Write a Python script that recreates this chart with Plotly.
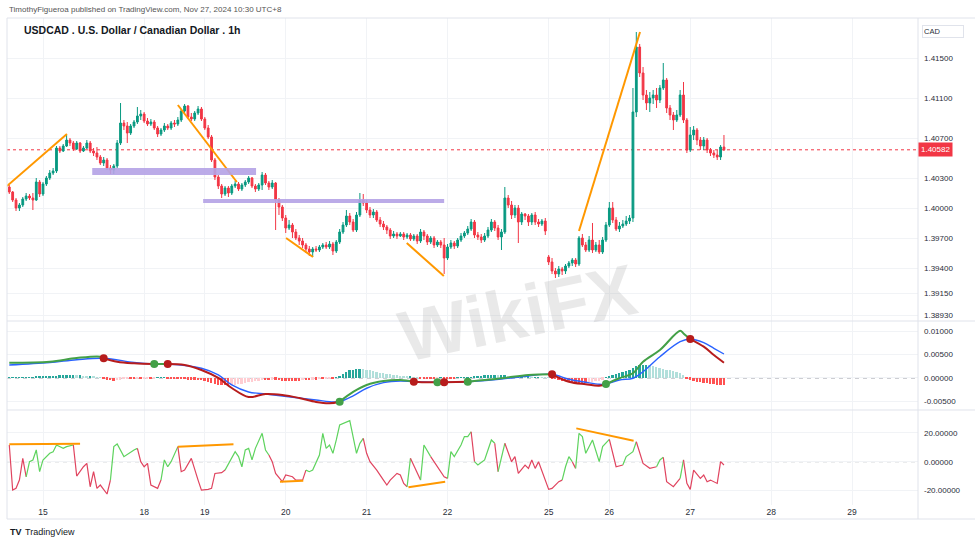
import plotly.graph_objects as go

# ---------------- data ----------------
day_pos = [10, 40, 58, 82, 106, 130, 160, 178, 202, 226, 250]
day_lbl = ["15", "18", "19", "20", "21", "22", "25", "26", "27", "28", "29"]

opens = [
 1.4021,1.4016,1.4008,1.4000,1.4003,1.4009,1.4012,1.4010,1.4008,1.4026,
 1.4014,1.4024,1.4030,1.4035,1.4037,1.4060,1.4057,1.4062,1.4068,1.4065,
 1.4059,1.4065,1.4057,1.4060,1.4065,1.4057,1.4055,1.4051,1.4045,1.4048,
 1.4040,1.4038,1.4042,1.4065,1.4085,1.4082,1.4075,1.4082,1.4086,1.4092,
 1.4094,1.4087,1.4084,1.4086,1.4080,1.4074,1.4078,1.4082,1.4080,1.4085,
 1.4084,1.4088,1.4097,1.4102,1.4091,1.4089,1.4095,1.4099,1.4089,1.4080,
 1.4071,1.4048,1.4031,1.4022,1.4014,1.4020,1.4015,1.4022,1.4024,1.4019,
 1.4023,1.4026,1.4030,1.4022,1.4019,1.4023,1.4033,1.4025,1.4021,1.4025,
 1.4008,1.4001,1.3990,1.3980,1.3983,1.3976,1.3970,1.3967,1.3963,1.3959,
 1.3956,1.3959,1.3958,1.3961,1.3963,1.3961,1.3964,1.3957,1.3966,1.3976,
 1.3983,1.3992,1.3986,1.3978,1.3993,1.4008,1.4005,1.3998,1.3993,1.3996,
 1.3988,1.3984,1.3981,1.3978,1.3972,1.3974,1.3972,1.3974,1.3971,1.3973,
 1.3969,1.3972,1.3967,1.3976,1.3972,1.3966,1.3970,1.3963,1.3966,1.3963,
 1.3950,1.3961,1.3965,1.3962,1.3968,1.3972,1.3975,1.3979,1.3986,1.3973,
 1.3971,1.3968,1.3972,1.3978,1.3986,1.3980,1.3971,1.3976,1.4010,1.4003,
 1.3993,1.4000,1.3986,1.3994,1.3992,1.3986,1.3993,1.3986,1.3984,1.3987,
 1.3951,1.3946,1.3937,1.3934,1.3939,1.3937,1.3942,1.3945,1.3948,1.3944,
 1.3970,1.3963,1.3958,1.3968,1.3958,1.3963,1.3956,1.3968,1.3983,1.4000,
 1.3988,1.3979,1.3982,1.3984,1.3987,1.3990,1.4096,1.4161,1.4135,1.4113,
 1.4105,1.4110,1.4113,1.4108,1.4120,1.4128,1.4100,1.4093,1.4088,1.4093,
 1.4113,1.4088,1.4058,1.4073,1.4078,1.4068,1.4062,1.4068,1.4058,1.4055,
 1.4053,1.4051,1.4061]

closes = [
 1.4016,1.4008,1.4000,1.4003,1.4009,1.4012,1.4010,1.4008,1.4026,1.4014,
 1.4024,1.4030,1.4035,1.4037,1.4060,1.4057,1.4062,1.4068,1.4065,1.4059,
 1.4065,1.4057,1.4060,1.4065,1.4057,1.4055,1.4051,1.4045,1.4048,1.4040,
 1.4038,1.4042,1.4065,1.4085,1.4082,1.4075,1.4082,1.4086,1.4092,1.4094,
 1.4087,1.4084,1.4086,1.4080,1.4074,1.4078,1.4082,1.4080,1.4085,1.4084,
 1.4088,1.4097,1.4102,1.4091,1.4089,1.4095,1.4099,1.4089,1.4080,1.4071,
 1.4048,1.4031,1.4022,1.4014,1.4020,1.4015,1.4022,1.4024,1.4019,1.4023,
 1.4026,1.4030,1.4022,1.4019,1.4023,1.4033,1.4025,1.4021,1.4025,1.4008,
 1.4001,1.3990,1.3980,1.3983,1.3976,1.3970,1.3967,1.3963,1.3959,1.3956,
 1.3959,1.3958,1.3961,1.3963,1.3961,1.3964,1.3957,1.3966,1.3976,1.3983,
 1.3992,1.3986,1.3978,1.3993,1.4008,1.4005,1.3998,1.3993,1.3996,1.3988,
 1.3984,1.3981,1.3978,1.3972,1.3974,1.3972,1.3974,1.3971,1.3973,1.3969,
 1.3972,1.3967,1.3976,1.3972,1.3966,1.3970,1.3963,1.3966,1.3963,1.3950,
 1.3961,1.3965,1.3962,1.3968,1.3972,1.3975,1.3979,1.3986,1.3973,1.3971,
 1.3968,1.3972,1.3978,1.3986,1.3980,1.3971,1.3976,1.4010,1.4003,1.3993,
 1.4000,1.3986,1.3994,1.3992,1.3986,1.3993,1.3986,1.3984,1.3987,1.3977,
 1.3946,1.3937,1.3934,1.3939,1.3937,1.3942,1.3945,1.3948,1.3944,1.3970,
 1.3963,1.3958,1.3968,1.3958,1.3963,1.3956,1.3968,1.3983,1.4000,1.3988,
 1.3979,1.3982,1.3984,1.3987,1.3990,1.4096,1.4161,1.4135,1.4113,1.4105,
 1.4110,1.4113,1.4108,1.4120,1.4128,1.4100,1.4093,1.4088,1.4093,1.4113,
 1.4088,1.4058,1.4073,1.4078,1.4068,1.4062,1.4068,1.4058,1.4055,1.4053,
 1.4051,1.4061,1.40582]

highs = [
 1.4023,1.4017,1.4010,1.4005,1.4011,1.4015,1.4014,1.4015,1.4030,1.4028,
 1.4026,1.4032,1.4038,1.4040,1.4062,1.4062,1.4064,1.4073,1.4070,1.4067,
 1.4067,1.4066,1.4062,1.4068,1.4067,1.4060,1.4061,1.4053,1.4051,1.4050,
 1.4043,1.4044,1.4068,1.4105,1.4088,1.4086,1.4084,1.4088,1.4101,1.4098,
 1.4096,1.4090,1.4089,1.4088,1.4082,1.4080,1.4085,1.4084,1.4087,1.4088,
 1.4091,1.4099,1.4104,1.4103,1.4095,1.4097,1.4102,1.4101,1.4091,1.4083,
 1.4073,1.4050,1.4033,1.4024,1.4022,1.4022,1.4024,1.4027,1.4026,1.4025,
 1.4028,1.4032,1.4031,1.4024,1.4025,1.4036,1.4035,1.4027,1.4028,1.4026,
 1.4010,1.4003,1.3993,1.3988,1.3985,1.3979,1.3973,1.3970,1.3965,1.3962,
 1.3961,1.3962,1.3963,1.3965,1.3966,1.3967,1.3966,1.3968,1.3979,1.3986,
 1.3998,1.3995,1.3989,1.3996,1.4015,1.4014,1.4008,1.4001,1.3999,1.3998,
 1.3991,1.3987,1.3983,1.3980,1.3977,1.3976,1.3976,1.3976,1.3975,1.3975,
 1.3974,1.3974,1.3979,1.3978,1.3974,1.3972,1.3972,1.3968,1.3968,1.3970,
 1.3964,1.3968,1.3967,1.3970,1.3975,1.3977,1.3982,1.3989,1.3988,1.3976,
 1.3974,1.3975,1.3981,1.3989,1.3988,1.3983,1.3979,1.4021,1.4013,1.4007,
 1.4003,1.4003,1.3996,1.3995,1.3994,1.3995,1.3996,1.3989,1.3989,1.3990,
 1.3953,1.3950,1.3940,1.3942,1.3941,1.3944,1.3947,1.3950,1.3950,1.3972,
 1.3974,1.3966,1.3972,1.3985,1.3966,1.3968,1.3971,1.3986,1.4006,1.4006,
 1.3991,1.3986,1.3988,1.3992,1.3993,1.4120,1.4176,1.4164,1.4141,1.4118,
 1.4116,1.4118,1.4120,1.4123,1.4145,1.4130,1.4103,1.4096,1.4098,1.4118,
 1.4126,1.4090,1.4081,1.4082,1.4080,1.4071,1.4071,1.4070,1.4060,1.4058,
 1.4058,1.4063,1.4073]

lows = [
 1.4014,1.4006,1.3997,1.3997,1.4001,1.4007,1.4008,1.3998,1.4007,1.4011,
 1.4012,1.4022,1.4028,1.4033,1.4035,1.4055,1.4056,1.4061,1.4062,1.4057,
 1.4058,1.4055,1.4056,1.4059,1.4055,1.4052,1.4048,1.4043,1.4042,1.4038,
 1.4034,1.4034,1.4040,1.4063,1.4078,1.4065,1.4073,1.4080,1.4084,1.4088,
 1.4085,1.4082,1.4082,1.4078,1.4071,1.4072,1.4076,1.4078,1.4078,1.4081,
 1.4082,1.4086,1.4095,1.4089,1.4087,1.4087,1.4093,1.4087,1.4078,1.4069,
 1.4046,1.4028,1.4019,1.4010,1.4012,1.4011,1.4013,1.4020,1.4017,1.4017,
 1.4021,1.4024,1.4020,1.4016,1.4017,1.4018,1.4023,1.4018,1.4019,1.3978,
 1.3993,1.3987,1.3975,1.3978,1.3970,1.3968,1.3963,1.3960,1.3955,1.3952,
 1.3951,1.3956,1.3956,1.3959,1.3959,1.3959,1.3953,1.3955,1.3964,1.3974,
 1.3981,1.3983,1.3976,1.3976,1.3991,1.4002,1.3995,1.3990,1.3990,1.3986,
 1.3981,1.3978,1.3974,1.3969,1.3970,1.3969,1.3971,1.3968,1.3969,1.3967,
 1.3967,1.3964,1.3965,1.3968,1.3963,1.3964,1.3960,1.3961,1.3960,1.3934,
 1.3948,1.3959,1.3959,1.3960,1.3966,1.3970,1.3973,1.3977,1.3970,1.3968,
 1.3965,1.3966,1.3970,1.3976,1.3977,1.3968,1.3958,1.3974,1.4000,1.3989,
 1.3990,1.3965,1.3983,1.3988,1.3982,1.3983,1.3983,1.3981,1.3982,1.3973,
 1.3943,1.3934,1.3930,1.3931,1.3933,1.3934,1.3940,1.3942,1.3941,1.3942,
 1.3961,1.3956,1.3956,1.3955,1.3956,1.3954,1.3954,1.3966,1.3981,1.3985,
 1.3977,1.3976,1.3980,1.3982,1.3984,1.3986,1.4091,1.4131,1.4108,1.4098,
 1.4096,1.4104,1.4100,1.4105,1.4118,1.4095,1.4088,1.4078,1.4086,1.4091,
 1.4085,1.4055,1.4056,1.4068,1.4063,1.4058,1.4058,1.4055,1.4052,1.4050,
 1.4048,1.4048,1.4057]

price_ticks = [1.415, 1.411, 1.407, 1.403, 1.400, 1.397, 1.394, 1.3915, 1.3893]

# MACD panel
macd_idx = [0,12,20,27,28,32,37,43,47,52,57,62,66,71,76,81,86,91,95,98,
            102,106,111,116,120,124,127,129,136,146,154,161,166,171,175,177,181,185,188,193,
            199,200,202,206,209,212]
macd_val = [0.00326,0.00347,0.00426,0.00454,0.0042,0.00347,0.00313,0.00298,0.00298,0.00277,
            0.0017,0.0,-0.00213,-0.00405,-0.00341,-0.00362,-0.00426,-0.00511,-0.00539,-0.00505,
            -0.00298,-0.00149,-0.00064,-0.00043,-0.00079,-0.00092,-0.00092,-0.00092,-0.00079,-0.00006,
            0.00064,0.00079,-0.00079,-0.00134,-0.00164,-0.00128,-0.00006,0.001,0.00347,0.00596,
            0.01007,0.0095,0.0083,0.00667,0.0049,0.00326]
signal_idx = [0,12,20,28,37,43,47,57,62,66,71,76,81,86,91,95,98,102,106,111,
              116,120,129,136,146,154,161,166,171,175,177,181,185,188,193,199,202,206,209,212]
signal_val = [0.00277,0.0033,0.0039,0.0042,0.0033,0.00298,0.00298,0.00207,0.00064,-0.00149,
              -0.00298,-0.0034,-0.00383,-0.00426,-0.00469,-0.00505,-0.00505,-0.00383,-0.00219,-0.001,
              -0.00064,-0.00079,-0.00092,-0.00079,-0.00021,0.00043,0.00079,-0.00028,-0.00092,-0.00134,
              -0.00128,-0.00043,-0.00006,0.00134,0.00454,0.00773,0.0083,0.00752,0.00633,0.00511]
cross_idx = [28, 43, 47, 98, 120, 127, 129, 136, 161, 177, 202]
cross_dir = ["dn", "up", "dn", "up", "dn", "up", "dn", "up", "dn", "up", "dn"]
hist_val = [
 0.0002,0.0002,0.0002,0.0002,0.0002,0.0002,0.0002,0.0002,0.0003,0.0003,
 0.0003,0.0003,0.0003,0.0004,0.0004,0.0006,0.0006,0.0007,0.0007,0.0007,
 0.0006,0.0006,0.0005,0.0004,0.0004,0.0003,0.0002,0.0001,-0.0002,-0.0004,
 -0.0005,-0.0006,-0.0005,-0.0004,-0.0003,-0.0002,-0.0002,-0.0002,-0.00016,-0.00016,
 -0.00012,-0.0001,-0.0001,-0.00006,0.00006,0.00006,0.00006,-0.0001,-0.00016,-0.0002,
 -0.00024,-0.0003,-0.0003,-0.00036,-0.0004,-0.0004,-0.00044,-0.0005,-0.0006,-0.0008,
 -0.001,-0.0012,-0.0014,-0.0015,-0.0016,-0.0016,-0.0015,-0.0014,-0.0013,-0.0012,
 -0.001,-0.0009,-0.0008,-0.0007,-0.0006,-0.0005,-0.0005,-0.0005,-0.0004,-0.0004,
 -0.0005,-0.0006,-0.0006,-0.0006,-0.0006,-0.0006,-0.0006,-0.0005,-0.0005,-0.0005,
 -0.0004,-0.0004,-0.0003,-0.0003,-0.0002,-0.0001,-0.0001,0.0002,0.0004,0.0008,
 0.0012,0.0016,0.0018,0.002,0.002,0.0019,0.0018,0.0016,0.0014,0.0012,
 0.0011,0.001,0.0009,0.0008,0.0007,0.0006,0.0005,0.0004,0.0003,0.0003,
 0.0002,0.0001,-0.0001,-0.0001,-0.0001,-0.0001,-0.0001,-0.00006,0.00006,-0.00006,
 -0.00006,-0.00006,-0.00006,0.00006,0.0001,0.0001,0.00016,0.0002,0.0003,0.0004,
 0.0005,0.0006,0.0007,0.0007,0.0007,0.0006,0.0006,0.0006,0.0005,0.0005,
 0.0004,0.0004,0.0004,0.0003,0.0003,0.0002,0.0002,0.0002,0.00016,0.0001,
 0.00006,-0.0002,-0.0003,-0.0004,-0.0006,-0.0007,-0.0008,-0.0009,-0.001,-0.001,
 -0.001,-0.001,-0.0009,-0.0008,-0.0007,-0.0006,-0.0004,0.0002,0.0004,0.0006,
 0.0008,0.001,0.0012,0.0014,0.0018,0.0022,0.0026,0.0028,0.0028,0.0028,
 0.0027,0.0026,0.0024,0.0022,0.002,0.0018,0.0016,0.0014,0.0012,0.001,
 0.0006,-0.0002,-0.0004,-0.0006,-0.0008,-0.0009,-0.001,-0.0011,-0.0012,-0.0013,
 -0.0014,-0.0015,-0.0016]
macd_ticks = [0.01, 0.005, 0.0, -0.005]

# Oscillator panel
osc_idx = [0,1,2,3,4,5,6,7,8,9,10,12,13,14,16,17,19,20,22,23,
           24,25,26,27,29,30,31,32,34,37,38,39,40,41,42,44,45,46,47,48,
           50,51,52,54,56,57,59,60,61,63,64,66,67,68,69,70,71,72,73,75,
           76,77,78,79,81,82,84,85,87,88,89,90,92,93,94,95,96,97,98,101,
           102,103,104,105,106,107,109,111,112,113,115,116,117,118,119,122,123,125,126,127,
           129,130,131,132,134,135,136,137,138,139,141,143,144,145,147,149,150,151,153,154,
           155,156,157,158,160,161,163,164,165,166,167,168,169,170,171,173,175,176,178,180,
           182,183,185,186,187,188,190,192,193,194,195,197,199,200,201,202,203,205,206,207,
           208,210,211,212]
osc_val = [11.5,-19.6,-18.4,-12.7,2.3,-10.4,0,1.2,8.1,-6.9,1.2,5.8,6.9,11.5,9.2,10.4,11.5,-9.9,-3.5,-1.2,
           -17.3,-6.9,-18.4,-16.1,-22.3,-12.7,10.4,12.2,3.5,8.1,9.2,0,-3.5,-1.2,-16.1,-18.4,-12.7,1.2,-3.5,0,
           10.4,-6.9,-5.8,2.3,-12.7,-19.6,-19.1,-18.4,-8.1,-7.6,-5.8,2.3,6.9,3.5,-3.5,8.1,9.2,1.2,9.2,19.6,
           8.1,4.6,0,-8.1,-13.8,-9.2,-10.4,-12.7,-12.7,-5.8,-6.9,-5.8,4.6,19.6,9.2,11.5,5.8,15,25.3,28.3,
           17.3,5.8,12.7,16.1,5.8,0,-5.8,-12.7,-16.1,-12.7,-8.1,-9.2,-15,-17.3,2.3,-12.7,11.5,3.5,0,-3.5,
           -10.4,-11.5,6.9,3.5,11.5,17.3,17.3,20.7,0,-2.3,1.2,15,12.7,-6.9,12.7,0,3.5,-8.1,-2.3,-4.6,
           1.2,-4.6,0,-6.9,-19.1,-18.4,-13.8,-12.7,-3.5,3.5,0,-4.6,19.6,17.3,5.8,15,0,10.4,15.4,-3.5,
           -2.3,3.5,6.9,13.8,5.8,-1.2,-4.6,-3.5,1.2,3,-13.8,-17.3,-11.5,1.2,-15,-19.1,-5.8,-11.5,-9.2,-13.8,
           -12.7,-15,0,-2.3]
# colour of the line segment starting at each point, as runs (state, count)
osc_runs = [("dn",5),("up",11),("dn",9),("up",5),("dn",6),("up",4),("dn",10),("up",11),
            ("dn",8),("up",14),("dn",10),("up",1),("dn",1),("up",2),("dn",4),("up",6),
            ("dn",1),("up",4),("dn",1),("up",1),("dn",13),("up",3),("dn",1),("up",7),
            ("dn",2),("up",3),("dn",4),("up",2),("dn",3),("up",1),("dn",11)]
osc_ticks = [20, 0, -20]

# drawings
trend_x0 = [-0.7, 50.0, 82.1, 117.9, 169.0]
trend_x1 = [17.1, 67.5, 90.1, 128.9, 187.1]
trend_p0 = [1.4022, 1.4103, 1.3970, 1.3965, 1.3977]
trend_p1 = [1.4074, 1.4026, 1.3951, 1.3932, 1.4176]
zone_x0 = [24.6, 57.5]
zone_x1 = [73.2, 129.0]
zone_lo = [1.4033, 1.4005]
zone_hi = [1.4040, 1.4009]
otrend_x0 = [0, 50, 80.3, 118.4, 168.2]
otrend_x1 = [21, 66.5, 87.2, 129.3, 185.2]
otrend_v0 = [12, 10.4, -13.8, -17.7, 23]
otrend_v1 = [12.4, 12, -13.1, -13.8, 14.5]

# ---------------- styling ----------------
UP = "#089981"
DN = "#f23645"
GRID = "#f1f3f6"
FRAME = "#e0e3eb"
TXT = "#2a2e39"
ORANGE = "#ff9800"
FONT = "Liberation Sans"
XR = [-0.68, 269.56]
D_PRICE = [0.3778, 1.0]
D_MACD = [0.1951, 0.3778]
D_OSC = [0.0, 0.1951]

fig = go.Figure()
n = len(closes)
xs = list(range(n))

fig.add_trace(go.Candlestick(
    x=xs, open=opens, high=highs, low=lows, close=closes,
    increasing=dict(line=dict(color=UP, width=1), fillcolor=UP),
    decreasing=dict(line=dict(color=DN, width=1), fillcolor=DN),
    whiskerwidth=0, hoverinfo="skip", showlegend=False, xaxis="x", yaxis="y"))

# histogram
hist_cols = []
prev = 0.0
for v in hist_val:
    if v >= 0:
        c = "#26a69a" if v >= prev else "#b2dfdb"
    else:
        c = "#ff5252" if v <= prev else "#ffcdd2"
    hist_cols.append(c)
    prev = v
fig.add_trace(go.Bar(x=xs, y=hist_val, marker=dict(color=hist_cols, line=dict(width=0)),
                     width=0.55, xaxis="x2", yaxis="y2", hoverinfo="skip", showlegend=False))

# signal line
fig.add_trace(go.Scatter(x=signal_idx, y=signal_val, mode="lines",
                         line=dict(color="#2962ff", width=1.4, shape="spline"),
                         xaxis="x2", yaxis="y2", hoverinfo="skip", showlegend=False))

# MACD line split at crossings
macd_pts = list(zip(macd_idx, macd_val))
bounds = [macd_idx[0]] + cross_idx + [macd_idx[-1]]
for k in range(len(bounds) - 1):
    a, b = bounds[k], bounds[k + 1]
    seg = [(i, v) for i, v in macd_pts if a <= i <= b]
    if k == 0:
        col = "#43a047" if cross_dir[0] == "dn" else "#b71c1c"
    else:
        col = "#43a047" if cross_dir[k - 1] == "up" else "#b71c1c"
    fig.add_trace(go.Scatter(x=[p[0] for p in seg], y=[p[1] for p in seg], mode="lines",
                             line=dict(color=col, width=2, shape="spline"),
                             xaxis="x2", yaxis="y2", hoverinfo="skip", showlegend=False))

macd_lookup = dict(macd_pts)
fig.add_trace(go.Scatter(
    x=cross_idx, y=[macd_lookup[i] for i in cross_idx], mode="markers",
    marker=dict(size=8, color=["#43a047" if d == "up" else "#b71c1c" for d in cross_dir]),
    xaxis="x2", yaxis="y2", hoverinfo="skip", showlegend=False))

# oscillator
osc_state = []
for st, cnt in osc_runs:
    osc_state += [st] * cnt
k = 0
while k < len(osc_idx) - 1:
    st = osc_state[k]
    j = k
    while j < len(osc_idx) - 1 and osc_state[j] == st:
        j += 1
    fig.add_trace(go.Scatter(x=osc_idx[k:j + 1], y=osc_val[k:j + 1], mode="lines",
                             line=dict(color="#5ed35e" if st == "up" else "#e0445f", width=1.2),
                             xaxis="x3", yaxis="y3", hoverinfo="skip", showlegend=False))
    k = j

# ---------------- shapes ----------------
shapes = []
for x0, x1, p0, p1 in zip(trend_x0, trend_x1, trend_p0, trend_p1):
    shapes.append(dict(type="line", xref="x", yref="y", x0=x0, x1=x1, y0=p0, y1=p1,
                       line=dict(color=ORANGE, width=2)))
for x0, x1, lo, hi in zip(zone_x0, zone_x1, zone_lo, zone_hi):
    shapes.append(dict(type="rect", xref="x", yref="y", x0=x0, x1=x1, y0=lo, y1=hi,
                       fillcolor="#b4a2e6", opacity=0.9, line=dict(width=0)))
for x0, x1, v0, v1 in zip(otrend_x0, otrend_x1, otrend_v0, otrend_v1):
    shapes.append(dict(type="line", xref="x3", yref="y3", x0=x0, x1=x1, y0=v0, y1=v1,
                       line=dict(color=ORANGE, width=2)))
# last price dotted line
shapes.append(dict(type="line", xref="paper", yref="y", x0=0, x1=1, y0=closes[-1], y1=closes[-1],
                   line=dict(color=DN, width=1, dash="dot"), layer="below"))
# zero lines
shapes.append(dict(type="line", xref="paper", yref="y2", x0=0, x1=1, y0=0, y1=0,
                   line=dict(color="#9598a1", width=1, dash="4px,4px"), layer="below"))
shapes.append(dict(type="line", xref="paper", yref="y3", x0=0, x1=1, y0=0, y1=0,
                   line=dict(color="#9598a1", width=1, dash="4px,4px"), layer="below"))
# frame / separators
XR_PAPER = (975 - 7) / 911
BOT = (505 - 519) / 487
for y in (1.0, D_MACD[1], D_OSC[1], BOT):
    shapes.append(dict(type="line", xref="paper", yref="paper", x0=0, x1=XR_PAPER, y0=y, y1=y,
                       line=dict(color=FRAME, width=1)))
shapes.append(dict(type="line", xref="paper", yref="paper", x0=0, x1=0, y0=BOT, y1=1,
                   line=dict(color=FRAME, width=1)))
shapes.append(dict(type="line", xref="paper", yref="paper", x0=1, x1=1, y0=BOT, y1=1,
                   line=dict(color=FRAME, width=1)))

# ---------------- annotations ----------------
def px_x(px):
    return (px - 7) / 911

def px_y(py):
    return (505 - py) / 487

annotations = [
    dict(text="TimothyFigueroa published on TradingView.com, Nov 27, 2024 10:30 UTC+8",
         xref="paper", yref="paper", x=px_x(7), y=px_y(9), xanchor="left", yanchor="middle",
         showarrow=False, font=dict(family=FONT, size=8, color="#555555")),
    dict(text="<b>USDCAD . U.S. Dollar / Canadian Dollar . 1h</b>",
         xref="paper", yref="paper", x=px_x(22), y=px_y(30), xanchor="left", yanchor="middle",
         showarrow=False, font=dict(family=FONT, size=10.5, color="#131722")),
    dict(text="CAD", xref="paper", yref="paper", x=px_x(922), y=px_y(31), xanchor="left",
         yanchor="middle", showarrow=False, width=38, align="left", bordercolor=FRAME,
         borderwidth=1, borderpad=1, font=dict(family=FONT, size=7.5, color=TXT)),
    dict(text=f"{closes[-1]:.5f}", xref="paper", yref="y", x=1, y=closes[-1], xanchor="left",
         yanchor="middle", showarrow=False, bgcolor=DN, borderpad=2,
         font=dict(family=FONT, size=8, color="white")),
    dict(text="<b>WikiFX</b>", xref="paper", yref="paper", x=px_x(517), y=px_y(313),
         xanchor="center", yanchor="middle", showarrow=False, textangle=-12,
         font=dict(family=FONT, size=72, color="rgba(170,170,170,0.26)")),
    dict(text="<b>TV</b>", xref="paper", yref="paper", x=px_x(8), y=px_y(532), xanchor="left",
         yanchor="middle", showarrow=False, font=dict(family=FONT, size=9, color="#131722")),
    dict(text="TradingView", xref="paper", yref="paper", x=px_x(23), y=px_y(532), xanchor="left",
         yanchor="middle", showarrow=False, font=dict(family=FONT, size=9, color="#131722")),
]

def xaxis(anchor, labels):
    return dict(domain=[0, 1], range=XR, anchor=anchor, showgrid=True, gridcolor=GRID,
                tickmode="array", tickvals=day_pos, ticktext=day_lbl, showticklabels=labels,
                zeroline=False, showline=False, ticks="",
                tickfont=dict(family=FONT, size=8.5, color=TXT), fixedrange=True)

def yaxis(domain, rng, anchor, tickvals, ticktext):
    return dict(domain=domain, range=rng, anchor=anchor, side="right", showgrid=True,
                gridcolor=GRID, zeroline=False, showline=False, ticks="", tickmode="array",
                tickvals=tickvals, ticktext=ticktext, ticklabelstandoff=5,
                tickfont=dict(family=FONT, size=8, color=TXT), fixedrange=True)

xa1 = xaxis("y", False)
xa1["rangeslider"] = dict(visible=False)

fig.update_layout(
    width=975, height=545,
    margin=dict(l=7, r=57, t=18, b=40),
    paper_bgcolor="white", plot_bgcolor="white",
    showlegend=False, boxgap=0.25, bargap=0,
    xaxis=xa1,
    xaxis2=xaxis("y2", False),
    xaxis3=xaxis("y3", True),
    yaxis=yaxis(D_PRICE, [1.3887, 1.4190], "x", price_ticks, [f"{v:.5f}" for v in price_ticks]),
    yaxis2=yaxis(D_MACD, [-0.00682, 0.01214], "x2", macd_ticks, [f"{v:.5f}" for v in macd_ticks]),
    yaxis3=yaxis(D_OSC, [-29.9, 35.7], "x3", osc_ticks, [f"{v:.5f}" for v in osc_ticks]),
    shapes=shapes,
    annotations=annotations,
)

fig.write_html("out.html", config={"displayModeBar": False},
               post_script="document.body.style.margin='0px';document.body.style.overflow='hidden';")
